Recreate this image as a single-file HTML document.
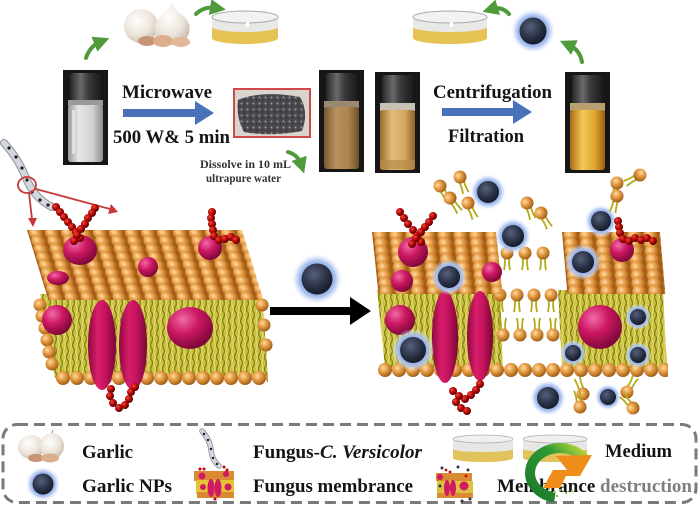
<!DOCTYPE html>
<html><head><meta charset="utf-8"><style>
html,body{margin:0;padding:0;background:#fff;}
svg{display:block;}
text{font-family:"Liberation Serif",serif;font-weight:bold;fill:#141414;}
</style></head><body>
<svg width="700" height="507" viewBox="0 0 700 507" xmlns="http://www.w3.org/2000/svg">
<defs>
<radialGradient id="bead" cx="0.38" cy="0.35" r="0.7">
 <stop offset="0" stop-color="#ffdca6"/>
 <stop offset="0.4" stop-color="#e8a04a"/>
 <stop offset="0.85" stop-color="#b06a1c"/>
 <stop offset="1" stop-color="#8a4e10"/>
</radialGradient>
<radialGradient id="pk" cx="0.35" cy="0.3" r="0.75">
 <stop offset="0" stop-color="#f26aa8"/>
 <stop offset="0.45" stop-color="#cc1862"/>
 <stop offset="1" stop-color="#780636"/>
</radialGradient>
<linearGradient id="el" x1="0" y1="0" x2="1" y2="0">
 <stop offset="0" stop-color="#8e0840"/>
 <stop offset="0.35" stop-color="#d81e6a"/>
 <stop offset="0.6" stop-color="#c81460"/>
 <stop offset="1" stop-color="#7a0636"/>
</linearGradient>
<radialGradient id="glow" r="0.5">
 <stop offset="0.5" stop-color="#7f9fe0"/>
 <stop offset="0.72" stop-color="#a9c1f0" stop-opacity="0.95"/>
 <stop offset="1" stop-color="#e8efff" stop-opacity="0"/>
</radialGradient>
<radialGradient id="core" cx="0.4" cy="0.35" r="0.65">
 <stop offset="0" stop-color="#56607a"/>
 <stop offset="0.6" stop-color="#2c3448"/>
 <stop offset="1" stop-color="#161c2a"/>
</radialGradient>
<radialGradient id="rb" cx="0.35" cy="0.35" r="0.7">
 <stop offset="0" stop-color="#f04a3a"/>
 <stop offset="0.5" stop-color="#b80808"/>
 <stop offset="1" stop-color="#4a0000"/>
</radialGradient>
<radialGradient id="garl" cx="0.4" cy="0.35" r="0.7">
 <stop offset="0" stop-color="#ffffff"/>
 <stop offset="0.6" stop-color="#ece4da"/>
 <stop offset="1" stop-color="#c8bcae"/>
</radialGradient>
<linearGradient id="cap" x1="0" y1="0" x2="1" y2="0">
 <stop offset="0" stop-color="#262626"/>
 <stop offset="0.35" stop-color="#6a6a6a"/>
 <stop offset="0.6" stop-color="#3a3a3a"/>
 <stop offset="1" stop-color="#1a1a1a"/>
</linearGradient>
<linearGradient id="liq1" x1="0" y1="0" x2="1" y2="0">
 <stop offset="0" stop-color="#9a9a9a"/>
 <stop offset="0.3" stop-color="#e6e6e6"/>
 <stop offset="0.7" stop-color="#d2d2d2"/>
 <stop offset="1" stop-color="#8e8e8e"/>
</linearGradient>
<linearGradient id="liq2" x1="0" y1="0" x2="1" y2="0">
 <stop offset="0" stop-color="#7a5a30"/>
 <stop offset="0.35" stop-color="#b8925e"/>
 <stop offset="0.7" stop-color="#a8844e"/>
 <stop offset="1" stop-color="#6e5028"/>
</linearGradient>
<linearGradient id="liq3" x1="0" y1="0" x2="1" y2="0">
 <stop offset="0" stop-color="#9a6e30"/>
 <stop offset="0.35" stop-color="#e2bb7a"/>
 <stop offset="0.7" stop-color="#d4a862"/>
 <stop offset="1" stop-color="#8e6428"/>
</linearGradient>
<linearGradient id="liq4" x1="0" y1="0" x2="1" y2="0">
 <stop offset="0" stop-color="#a86a12"/>
 <stop offset="0.35" stop-color="#f4c85a"/>
 <stop offset="0.7" stop-color="#e2a830"/>
 <stop offset="1" stop-color="#9a6010"/>
</linearGradient>
<linearGradient id="logoG" x1="1" y1="0" x2="0" y2="1">
 <stop offset="0" stop-color="#c8dc3a"/>
 <stop offset="0.35" stop-color="#2e9a34"/>
 <stop offset="1" stop-color="#1c7a2a"/>
</linearGradient>
<pattern id="bp" width="16" height="8" patternUnits="userSpaceOnUse">
 <rect width="16" height="8" fill="#a65f18"/>
 <circle cx="8" cy="-4" r="7" fill="url(#bead)"/>
 <circle cx="8" cy="4" r="7" fill="url(#bead)"/>
 <circle cx="8" cy="12" r="7" fill="url(#bead)"/>
</pattern>
<pattern id="row" width="14" height="14" patternUnits="userSpaceOnUse">
 <circle cx="7" cy="7" r="7" fill="url(#bead)"/>
</pattern>
<pattern id="tp" width="6" height="12" patternUnits="userSpaceOnUse">
 <rect width="6" height="12" fill="#cbc245"/>
 <path d="M1.5 0 q2 3 0 6 q-2 3 0 6" stroke="#878210" fill="none" stroke-width="1.4"/>
 <path d="M4.5 0 q-1.5 3 0 6 q1.5 3 0 6" stroke="#e6df78" fill="none" stroke-width="1"/>
</pattern>
<pattern id="spk" width="6" height="6" patternUnits="userSpaceOnUse">
 <rect width="6" height="6" fill="#4a484c"/>
 <circle cx="1.5" cy="1.5" r="1" fill="#9a989c"/>
 <circle cx="4.5" cy="4" r="0.8" fill="#2a282c"/>
</pattern>
<g id="lu"><path d="M-2.5 4 q1 6 -0.5 13 M2.5 4 q-1 6 0.5 13" stroke="#b3ab15" stroke-width="1.8" fill="none"/><circle r="6.5" fill="url(#bead)"/></g>
<g id="ld"><path d="M-2.5 -4 q1 -6 -0.5 -13 M2.5 -4 q-1 -6 0.5 -13" stroke="#b3ab15" stroke-width="1.8" fill="none"/><circle r="6.5" fill="url(#bead)"/></g>
<g id="np"><circle r="1.65" fill="url(#glow)"/><circle r="1" fill="url(#core)"/></g>
<circle id="rc" r="4" fill="url(#rb)"/>
<marker id="gh" markerWidth="4" markerHeight="4" refX="1.5" refY="2" orient="auto" markerUnits="strokeWidth">
 <path d="M0 0 L4 2 L0 4 Z" fill="#4f9a3a"/>
</marker>
</defs>
<rect width="700" height="507" fill="#fff"/>

<!-- ===== TOP PROCESS ===== -->
<ellipse cx="141" cy="26" rx="17" ry="17" fill="url(#garl)"/>
<path d="M172 3 q2 6 8 10 q12 8 9 20 q-4 12 -17 12 q-14 0 -17 -12 q-2 -12 9 -20 q6 -4 8 -10z" fill="url(#garl)"/>
<ellipse cx="147" cy="41" rx="9" ry="5" fill="#c89474"/>
<ellipse cx="163" cy="41" rx="10" ry="6" fill="#dcae8c"/>
<ellipse cx="181" cy="42" rx="9" ry="5" fill="#e2b698"/>
<path d="M212 17 v21 a33 6 0 0 0 66 0 v-21z" fill="#e8e8e6"/>
<path d="M212 27 v11 a33 6 0 0 0 66 0 v-11 a33 5 0 0 1 -66 0z" fill="#e6c254"/>
<ellipse cx="245" cy="17" rx="33" ry="6" fill="#f2f2f0" stroke="#a8a8a8" stroke-width="1"/>
<rect x="246" y="22" width="3" height="5" fill="#fff"/>
<path d="M413 17 v21 a37 6 0 0 0 74 0 v-21z" fill="#e8e8e6"/>
<path d="M413 27 v11 a37 6 0 0 0 74 0 v-11 a37 5 0 0 1 -74 0z" fill="#e6c254"/>
<ellipse cx="450" cy="17" rx="37" ry="6" fill="#f2f2f0" stroke="#a8a8a8" stroke-width="1"/>
<rect x="450" y="22" width="3" height="5" fill="#fff"/>
<use href="#np" transform="translate(533,31) scale(13.5)"/>

<g fill="none" stroke="#4f9a3a" stroke-width="4" stroke-linecap="round" marker-end="url(#gh)">
 <path d="M86 58 Q90 46 100 42"/>
 <path d="M196 14 Q204 6 216 8"/>
 <path d="M288 152 Q298 155 301 164"/>
 <path d="M509 14 Q502 6 492 9"/>
 <path d="M582 62 Q580 50 569 45"/>
</g>

<rect x="63" y="70" width="45" height="95" fill="#161616"/>
<rect x="70" y="73" width="31" height="27" rx="2" fill="url(#cap)"/>
<rect x="68" y="100" width="35" height="6" fill="#9a9a9a"/>
<rect x="68" y="105" width="35" height="57" rx="3" fill="url(#liq1)"/>
<rect x="72" y="110" width="3" height="44" fill="#fff" opacity="0.5"/>

<rect x="319" y="70" width="45" height="102" fill="#161616"/>
<rect x="326" y="73" width="31" height="28" rx="2" fill="url(#cap)"/>
<rect x="324" y="101" width="35" height="7" fill="#9a8a72"/>
<rect x="324" y="107" width="35" height="62" rx="3" fill="url(#liq2)"/>

<rect x="375" y="72" width="45" height="101" fill="#161616"/>
<rect x="382" y="75" width="31" height="28" rx="2" fill="url(#cap)"/>
<rect x="380" y="103" width="35" height="8" fill="#c8c2b4"/>
<rect x="380" y="110" width="35" height="60" rx="3" fill="url(#liq3)"/>
<rect x="380" y="160" width="35" height="9" fill="#b88a48" opacity="0.7"/>

<rect x="565" y="72" width="45" height="101" fill="#161616"/>
<rect x="572" y="75" width="31" height="28" rx="2" fill="url(#cap)"/>
<rect x="570" y="103" width="35" height="8" fill="#b8a070"/>
<rect x="570" y="110" width="35" height="60" rx="3" fill="url(#liq4)"/>

<rect x="234" y="89" width="76" height="48" fill="#d8d4ce" stroke="#d04848" stroke-width="2"/>
<path d="M238 100 Q262 90 300 97 Q309 112 302 131 Q270 137 244 132 Q236 118 238 100z" fill="url(#spk)"/>

<rect x="123" y="109" width="74" height="8" fill="#4a72b8"/>
<polygon points="195,101 214,113 195,125" fill="#4a72b8"/>
<rect x="442" y="108" width="73" height="8" fill="#4a72b8"/>
<polygon points="513,100 532,112 513,124" fill="#4a72b8"/>

<text x="122" y="98" font-size="19" textLength="90" lengthAdjust="spacingAndGlyphs">Microwave</text>
<text x="113" y="143" font-size="19" textLength="117" lengthAdjust="spacingAndGlyphs">500 W&amp; 5 min</text>
<text x="200" y="168" font-size="11.5" textLength="91" lengthAdjust="spacingAndGlyphs" style="fill:#333">Dissolve in 10 mL</text>
<text x="206" y="182" font-size="11.5" textLength="75" lengthAdjust="spacingAndGlyphs" style="fill:#333">ultrapure water</text>
<text x="433" y="98" font-size="19" textLength="119" lengthAdjust="spacingAndGlyphs">Centrifugation</text>
<text x="448" y="142" font-size="19" textLength="76" lengthAdjust="spacingAndGlyphs">Filtration</text>

<!-- fungus hypha -->
<path d="M4 143 Q18 158 26 178 Q34 198 52 207" stroke="#8d939c" stroke-width="8" fill="none" stroke-linecap="round"/>
<path d="M4 143 Q18 158 26 178 Q34 198 52 207" stroke="#d4d8de" stroke-width="6" fill="none" stroke-linecap="round"/>
<g fill="#1a1a1a">
<circle cx="9" cy="148" r="1.6"/><circle cx="16" cy="157" r="1.6"/><circle cx="22" cy="168" r="1.6"/>
<circle cx="27" cy="180" r="1.6"/><circle cx="32" cy="192" r="1.6"/><circle cx="40" cy="200" r="1.6"/><circle cx="48" cy="205" r="1.6"/>
</g>
<ellipse cx="27" cy="185" rx="9" ry="8" fill="none" stroke="#c83a3a" stroke-width="1.8"/>
<line x1="29" y1="193" x2="32" y2="219" stroke="#c83a3a" stroke-width="1.8"/>
<polygon points="28,218 37,218 33,227" fill="#c83a3a"/>
<line x1="36" y1="189" x2="110" y2="209" stroke="#c83a3a" stroke-width="1.8"/>
<polygon points="118,212 108,214 111,204" fill="#c83a3a"/>

<!-- LEFT MEMBRANE -->
<polygon points="40,294 262,294 268,376 55,378" fill="url(#tp)"/>
<g>
<circle cx="40" cy="305" r="6.5" fill="url(#bead)"/><circle cx="42" cy="316" r="6.5" fill="url(#bead)"/>
<circle cx="45" cy="328" r="6.5" fill="url(#bead)"/><circle cx="47" cy="340" r="6.5" fill="url(#bead)"/>
<circle cx="49" cy="352" r="6.5" fill="url(#bead)"/><circle cx="52" cy="364" r="6.5" fill="url(#bead)"/>
<circle cx="262" cy="305" r="6.5" fill="url(#bead)"/><circle cx="264" cy="325" r="6.5" fill="url(#bead)"/>
<circle cx="266" cy="345" r="6.5" fill="url(#bead)"/>
</g>
<circle cx="57" cy="320" r="15" fill="url(#pk)"/>
<ellipse cx="190" cy="328" rx="23" ry="21" fill="url(#pk)"/>
<rect x="56" y="0" width="212" height="14" fill="url(#row)" transform="translate(0,371)"/>
<g transform="translate(27,230) skewX(17)"><rect width="215" height="70" fill="url(#bp)"/></g>
<ellipse cx="80" cy="250" rx="17" ry="15" fill="url(#pk)"/>
<circle cx="148" cy="267" r="10" fill="url(#pk)"/>
<ellipse cx="58" cy="278" rx="11" ry="7" fill="url(#pk)"/>
<circle cx="210" cy="248" r="12" fill="url(#pk)"/>
<ellipse cx="102" cy="345" rx="14" ry="45" fill="url(#el)"/>
<ellipse cx="133" cy="345" rx="14" ry="45" fill="url(#el)"/>
<g>
<use href="#rc" x="56" y="207"/><use href="#rc" x="60" y="212"/><use href="#rc" x="64" y="217"/><use href="#rc" x="68" y="222"/><use href="#rc" x="72" y="227"/><use href="#rc" x="76" y="232"/><use href="#rc" x="80" y="238"/>
<use href="#rc" x="95" y="208"/><use href="#rc" x="92" y="213"/><use href="#rc" x="88" y="218"/><use href="#rc" x="85" y="224"/><use href="#rc" x="81" y="229"/><use href="#rc" x="77" y="235"/><use href="#rc" x="74" y="241"/>
<use href="#rc" x="212" y="212"/><use href="#rc" x="211" y="218"/><use href="#rc" x="212" y="224"/><use href="#rc" x="213" y="230"/><use href="#rc" x="214" y="236"/><use href="#rc" x="219" y="240"/><use href="#rc" x="225" y="239"/><use href="#rc" x="231" y="237"/><use href="#rc" x="236" y="240"/>
<use href="#rc" x="111" y="389"/><use href="#rc" x="110" y="396"/><use href="#rc" x="113" y="403"/><use href="#rc" x="119" y="408"/><use href="#rc" x="125" y="405"/><use href="#rc" x="129" y="399"/><use href="#rc" x="131" y="392"/><use href="#rc" x="135" y="387"/>
</g>

<use href="#np" transform="translate(317,279) scale(15.5)"/>
<rect x="270" y="307" width="82" height="8" fill="#000"/>
<polygon points="350,297 371,311 350,325" fill="#000"/>

<!-- RIGHT MEMBRANE -->
<polygon points="377,290 500,290 503,368 385,368" fill="url(#tp)"/>
<polygon points="558,290 663,290 667,368 562,368" fill="url(#tp)"/>
<circle cx="400" cy="320" r="15" fill="url(#pk)"/>
<ellipse cx="600" cy="327" rx="22" ry="22" fill="url(#pk)"/>
<use href="#ld" x="503" y="335"/><use href="#ld" x="520" y="335"/><use href="#ld" x="537" y="335"/><use href="#ld" x="553" y="335"/>
<use href="#lu" x="500" y="295"/><use href="#lu" x="517" y="295"/><use href="#lu" x="534" y="295"/><use href="#lu" x="551" y="295"/>
<use href="#lu" x="507" y="253"/><use href="#lu" x="525" y="253"/><use href="#lu" x="543" y="253"/>
<rect x="378" y="0" width="290" height="14" fill="url(#row)" transform="translate(0,363)"/>
<g transform="translate(372,232) skewX(6)"><rect width="124" height="62" fill="url(#bp)"/></g>
<g transform="translate(562,232) skewX(5)"><rect width="98" height="62" fill="url(#bp)"/></g>
<circle cx="413" cy="252" r="15" fill="url(#pk)"/>
<circle cx="402" cy="281" r="11" fill="url(#pk)"/>
<circle cx="492" cy="272" r="10" fill="url(#pk)"/>
<circle cx="622" cy="250" r="12" fill="url(#pk)"/>
<ellipse cx="445" cy="337" rx="13" ry="46" fill="url(#el)"/>
<ellipse cx="480" cy="336" rx="13" ry="45" fill="url(#el)"/>
<use href="#np" transform="translate(488,192) scale(11)"/>
<use href="#np" transform="translate(513,236) scale(11)"/>
<use href="#np" transform="translate(601,221) scale(10)"/>
<use href="#np" transform="translate(449,277) scale(11)"/>
<use href="#np" transform="translate(413,350) scale(13)"/>
<use href="#np" transform="translate(583,262) scale(11)"/>
<use href="#np" transform="translate(638,317) scale(8)"/>
<use href="#np" transform="translate(573,353) scale(8)"/>
<use href="#np" transform="translate(638,355) scale(8)"/>
<use href="#np" transform="translate(548,398) scale(11)"/>
<use href="#np" transform="translate(608,397) scale(8)"/>
<use href="#lu" transform="translate(440,186) rotate(-30)"/>
<use href="#lu" transform="translate(460,177) rotate(-20)"/>
<use href="#lu" transform="translate(450,198) rotate(-35)"/>
<use href="#lu" transform="translate(468,203) rotate(-25)"/>
<use href="#lu" transform="translate(527,203) rotate(-20)"/>
<use href="#lu" transform="translate(541,213) rotate(-30)"/>
<use href="#lu" transform="translate(617,183) rotate(10)"/>
<use href="#lu" transform="translate(640,175) rotate(60)"/>
<use href="#lu" transform="translate(617,196) rotate(15)"/>
<use href="#ld" transform="translate(583,394) rotate(-20)"/>
<use href="#ld" transform="translate(580,407) rotate(-10)"/>
<use href="#ld" transform="translate(627,392) rotate(30)"/>
<use href="#ld" transform="translate(633,408) rotate(-40)"/>
<g>
<use href="#rc" x="400" y="212"/><use href="#rc" x="404" y="218"/><use href="#rc" x="408" y="224"/><use href="#rc" x="413" y="230"/><use href="#rc" x="417" y="236"/><use href="#rc" x="421" y="242"/>
<use href="#rc" x="433" y="216"/><use href="#rc" x="429" y="222"/><use href="#rc" x="425" y="227"/><use href="#rc" x="421" y="232"/><use href="#rc" x="416" y="238"/><use href="#rc" x="412" y="244"/>
<use href="#rc" x="618" y="221"/><use href="#rc" x="619" y="227"/><use href="#rc" x="620" y="233"/><use href="#rc" x="623" y="239"/><use href="#rc" x="629" y="241"/><use href="#rc" x="635" y="238"/><use href="#rc" x="641" y="240"/><use href="#rc" x="647" y="238"/><use href="#rc" x="653" y="241"/>
<use href="#rc" x="480" y="384"/><use href="#rc" x="476" y="390"/><use href="#rc" x="471" y="395"/><use href="#rc" x="465" y="399"/><use href="#rc" x="459" y="396"/><use href="#rc" x="453" y="391"/><use href="#rc" x="456" y="402"/><use href="#rc" x="461" y="408"/><use href="#rc" x="467" y="411"/>
</g>

<!-- LEGEND -->
<rect x="3" y="424.5" width="693" height="78" rx="14" fill="none" stroke="#7a7a7a" stroke-width="3" stroke-dasharray="11 6"/>
<ellipse cx="31" cy="447" rx="13" ry="12" fill="url(#garl)"/>
<ellipse cx="52" cy="446" rx="12" ry="13" fill="url(#garl)"/>
<path d="M52 433 l1 -3" stroke="#c8bcae" stroke-width="2"/>
<ellipse cx="36" cy="458" rx="8" ry="4" fill="#c89474"/>
<ellipse cx="50" cy="458" rx="9" ry="4.5" fill="#dcae8c"/>
<text x="82" y="458" font-size="19" textLength="51" lengthAdjust="spacingAndGlyphs">Garlic</text>
<path d="M202 431 Q210 440 211 450 Q212 460 219 466" stroke="#8d939c" stroke-width="5.5" fill="none" stroke-linecap="round"/>
<path d="M202 431 Q210 440 211 450 Q212 460 219 466" stroke="#d4d8de" stroke-width="3.8" fill="none" stroke-linecap="round"/>
<g fill="#1a1a1a"><circle cx="204" cy="434" r="1.2"/><circle cx="208" cy="440" r="1.2"/><circle cx="211" cy="449" r="1.2"/><circle cx="213" cy="458" r="1.2"/><circle cx="217" cy="464" r="1.2"/></g>
<text x="253" y="458" font-size="19" textLength="169" lengthAdjust="spacingAndGlyphs">Fungus-<tspan font-style="italic">C. Versicolor</tspan></text>
<path d="M453 439 v19 a30 4 0 0 0 60 0 v-19z" fill="#e6e6e4"/>
<path d="M453 449 v9 a30 4 0 0 0 60 0 v-9 a30 3 0 0 1 -60 0z" fill="#e2c25a"/>
<ellipse cx="483" cy="439" rx="30" ry="4" fill="#f0f0ee" stroke="#b0b0b0" stroke-width="0.8"/>
<path d="M523 439 v19 a32 4 0 0 0 64 0 v-19z" fill="#e6e6e4"/>
<path d="M523 449 v9 a32 4 0 0 0 64 0 v-9 a32 3 0 0 1 -64 0z" fill="#e2c25a"/>
<ellipse cx="555" cy="439" rx="32" ry="4" fill="#f0f0ee" stroke="#b0b0b0" stroke-width="0.8"/>
<text x="605" y="457" font-size="19" textLength="67" lengthAdjust="spacingAndGlyphs">Medium</text>
<use href="#np" transform="translate(43,484) scale(10.5)"/>
<text x="82" y="492" font-size="19" textLength="90" lengthAdjust="spacingAndGlyphs">Garlic NPs</text>
<rect x="194" y="471" width="40" height="10" fill="#d98a32"/>
<rect x="196" y="480" width="38" height="14" fill="#e3c437"/>
<rect x="197" y="492" width="37" height="6" fill="#d98a32"/>
<ellipse cx="211" cy="488" rx="3.5" ry="9" fill="#d01a62"/>
<ellipse cx="218" cy="488" rx="3.5" ry="9" fill="#d01a62"/>
<circle cx="202" cy="476" r="3.5" fill="#d01a62"/><circle cx="226" cy="474" r="3" fill="#d01a62"/><circle cx="203" cy="487" r="3" fill="#d01a62"/><circle cx="228" cy="487" r="3.5" fill="#d01a62"/>
<g fill="#c00"><circle cx="200" cy="469" r="1.5"/><circle cx="204" cy="469" r="1.5"/><circle cx="224" cy="467" r="1.5"/><circle cx="227" cy="470" r="1.5"/><circle cx="215" cy="499" r="1.5"/></g>
<text x="253" y="492" font-size="19" textLength="160" lengthAdjust="spacingAndGlyphs">Fungus membrance</text>
<rect x="436" y="473" width="36" height="8" fill="#d98a32"/>
<rect x="437" y="481" width="36" height="13" fill="#dcc040"/>
<rect x="437" y="493" width="36" height="5" fill="#d98a32"/>
<ellipse cx="447" cy="488" rx="3" ry="8" fill="#d01a62"/>
<ellipse cx="453" cy="488" rx="3" ry="8" fill="#d01a62"/>
<circle cx="464" cy="486" r="4.5" fill="#d01a62"/><circle cx="440" cy="477" r="3" fill="#d01a62"/>
<g fill="#2c3448"><circle cx="442" cy="468" r="1.5"/><circle cx="458" cy="467" r="1.5"/><circle cx="468" cy="470" r="1.5"/><circle cx="470" cy="499" r="1.5"/><circle cx="462" cy="501" r="1.5"/><circle cx="440" cy="486" r="1.5"/></g>
<g fill="#c00"><circle cx="446" cy="470" r="1.4"/><circle cx="450" cy="472" r="1.4"/><circle cx="466" cy="476" r="1.4"/></g>
<text x="497" y="492" font-size="19" textLength="195" lengthAdjust="spacingAndGlyphs">Membrance destruction</text>
<rect x="598" y="476" width="96" height="19" fill="#fff" opacity="0.45"/>
<path d="M586 460.5 A30 25 0 1 0 554.8 497.6" stroke="url(#logoG)" stroke-width="10" fill="none"/>
<polygon points="556,456 592,455 580,476 566,476 560,488 543,488 553,470 567,470" fill="#ef8c1a"/>
<g fill="#8cc83a"><rect x="548" y="488" width="2" height="2"/><rect x="553" y="491" width="2" height="2"/><rect x="559" y="489" width="2" height="2"/><rect x="565" y="492" width="2" height="2"/><rect x="571" y="490" width="2" height="2"/><rect x="556" y="495" width="2" height="2"/></g>
</svg>
</body></html>
